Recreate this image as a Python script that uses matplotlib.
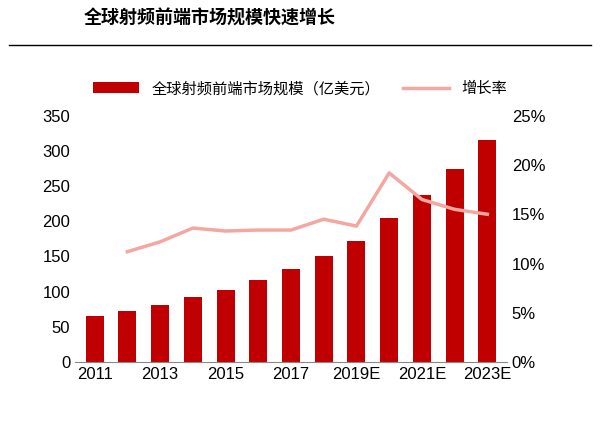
import matplotlib
matplotlib.use("Agg")
import matplotlib.pyplot as plt
from matplotlib.lines import Line2D

plt.rcParams['font.family'] = ['Liberation Sans', 'Noto Sans CJK SC', 'DejaVu Sans']

years = ['2011', '2012', '2013', '2014', '2015', '2016', '2017', '2018',
         '2019E', '2020E', '2021E', '2022E', '2023E']
market = [65, 72, 81, 92, 103, 117, 132, 151, 172, 204, 238, 274, 315]
growth = [None, 11.2, 12.2, 13.6, 13.3, 13.4, 13.4, 14.5, 13.8, 19.2, 16.5, 15.5, 15.0]

fig = plt.figure(figsize=(6, 4.32), dpi=100)
fig.text(0.14, 0.945, '全球射频前端市场规模快速增长', fontsize=13, fontweight='bold',
         family=['Noto Sans CJK SC', 'DejaVu Sans'])
fig.add_artist(Line2D([0.015, 0.985], [0.895, 0.895], color='black', lw=1))

ax = fig.add_axes([0.125, 0.162, 0.72, 0.57])
x = range(len(years))
ax.bar(x, market, width=0.55, color='#C00000', label='全球射频前端市场规模（亿美元）')
ax.set_ylim(0, 350)
ax.set_yticks(range(0, 351, 50))
ax.set_xlim(-0.6, len(years) - 0.4)
ax.set_xticks(list(x)[::2])
ax.set_xticklabels(years[::2])
ax.tick_params(labelsize=12, length=0)
for s in ['top', 'right', 'left']:
    ax.spines[s].set_visible(False)
ax.spines['bottom'].set_color('#888888')

ax2 = ax.twinx()
gx = [i for i, g in zip(x, growth) if g is not None]
gy = [g for g in growth if g is not None]
ax2.plot(gx, gy, color='#F4A7A0', lw=2.5, label='增长率')
ax2.set_ylim(0, 25)
ax2.set_yticks(range(0, 26, 5))
ax2.set_yticklabels([f'{v}%' for v in range(0, 26, 5)])
ax2.tick_params(labelsize=12, length=0)
for s in ['top', 'right', 'left', 'bottom']:
    ax2.spines[s].set_visible(False)

h1, l1 = ax.get_legend_handles_labels()
h2, l2 = ax2.get_legend_handles_labels()
fig.legend(h1 + h2, l1 + l2, loc='center', bbox_to_anchor=(0.5, 0.795), ncol=2,
           frameon=False, fontsize=11, handlelength=3, columnspacing=1.5,
           prop={'family': ['Noto Sans CJK SC', 'DejaVu Sans'], 'size': 11})

fig.savefig('out.png', dpi=100)
